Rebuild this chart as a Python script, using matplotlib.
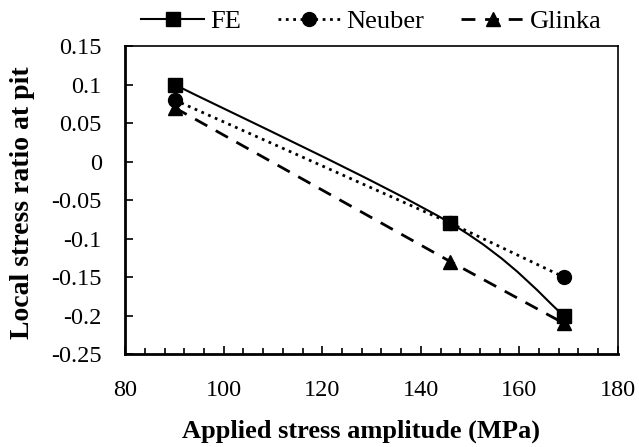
# -*- coding: utf-8 -*-

import matplotlib
matplotlib.use('Agg')
import matplotlib.pyplot as plt
import numpy as np
from matplotlib.path import Path
from matplotlib.patches import PathPatch
from matplotlib.ticker import MultipleLocator


amplitude = [90, 146, 169]
fe = [0.10, -0.08, -0.20]
neuber = [0.08, -0.08, -0.15]
glinka = [0.07, -0.13, -0.21]

plt.rcParams['font.family'] = ['Liberation Serif', 'DejaVu Serif']
plt.rcParams['font.size'] = 17.5


def smooth_path(x, y):
    # excel style smoothed line (catmull-rom as bezier)
    p = np.column_stack([x, y]).astype(float)
    pts = np.vstack([p[0], p, p[-1]])
    verts = [tuple(p[0])]
    codes = [Path.MOVETO]
    for i in range(1, len(pts) - 2):
        p0, p1, p2, p3 = pts[i - 1], pts[i], pts[i + 1], pts[i + 2]
        c1 = p1 + (p2 - p0) / 6.0
        c2 = p2 - (p3 - p1) / 6.0
        verts += [tuple(c1), tuple(c2), tuple(p2)]
        codes += [Path.CURVE4] * 3
    return Path(verts, codes)


fig = plt.figure(figsize=(6.39, 4.47), dpi=100)
ax = fig.add_axes([0.196, 0.208, 0.771, 0.689])

# FE (smoothed)
ax.add_patch(PathPatch(smooth_path(amplitude, fe), fill=False, lw=1.5, color='black'))
ax.plot(amplitude, fe, ls='none', marker='s', ms=10, color='black')
ax.plot([], [], '-', marker='s', ms=10, lw=1.5, color='black', label='FE')

ax.plot(amplitude, neuber, ls=':', lw=2, marker='o', ms=10, color='black', label='Neuber')
ax.plot(amplitude, glinka, ls=(0, (5, 3.5)), lw=2, marker='^', ms=10, color='black', label='Glinka')

ax.set_xlim(80, 180)
ax.set_ylim(-0.25, 0.15)
ax.xaxis.set_major_locator(MultipleLocator(20))
ax.xaxis.set_minor_locator(MultipleLocator(4))
ax.yaxis.set_major_locator(MultipleLocator(0.05))
ax.tick_params(axis='both', which='major', direction='in', length=6, width=1.2)
ax.tick_params(axis='y', which='major', pad=17)
ax.tick_params(axis='x', which='major', pad=19)
ax.tick_params(axis='x', which='minor', direction='in', length=4, width=1.2)
ax.yaxis.set_major_formatter(plt.FuncFormatter(lambda v, p: ('%g' % round(v, 2))))
for s in ax.spines.values():
    s.set_linewidth(1.2)
ax.spines['left'].set_linewidth(2)
ax.spines['bottom'].set_linewidth(2)

ax.set_xlabel('Applied stress amplitude (MPa)', fontweight='bold', fontsize=19)
ax.set_ylabel('Local stress ratio at pit', fontweight='bold', fontsize=20)
ax.xaxis.set_label_coords(0.478, -0.212)
ax.yaxis.set_label_coords(-0.183, 0.49)

handles, labels = ax.get_legend_handles_labels()
fig.legend(handles, labels, loc='center', bbox_to_anchor=(0.581, 0.953), ncol=3,
           frameon=False, fontsize=19, handlelength=2.4, columnspacing=1.4,
           handletextpad=0.2)

plt.savefig('out.png', dpi=100)
